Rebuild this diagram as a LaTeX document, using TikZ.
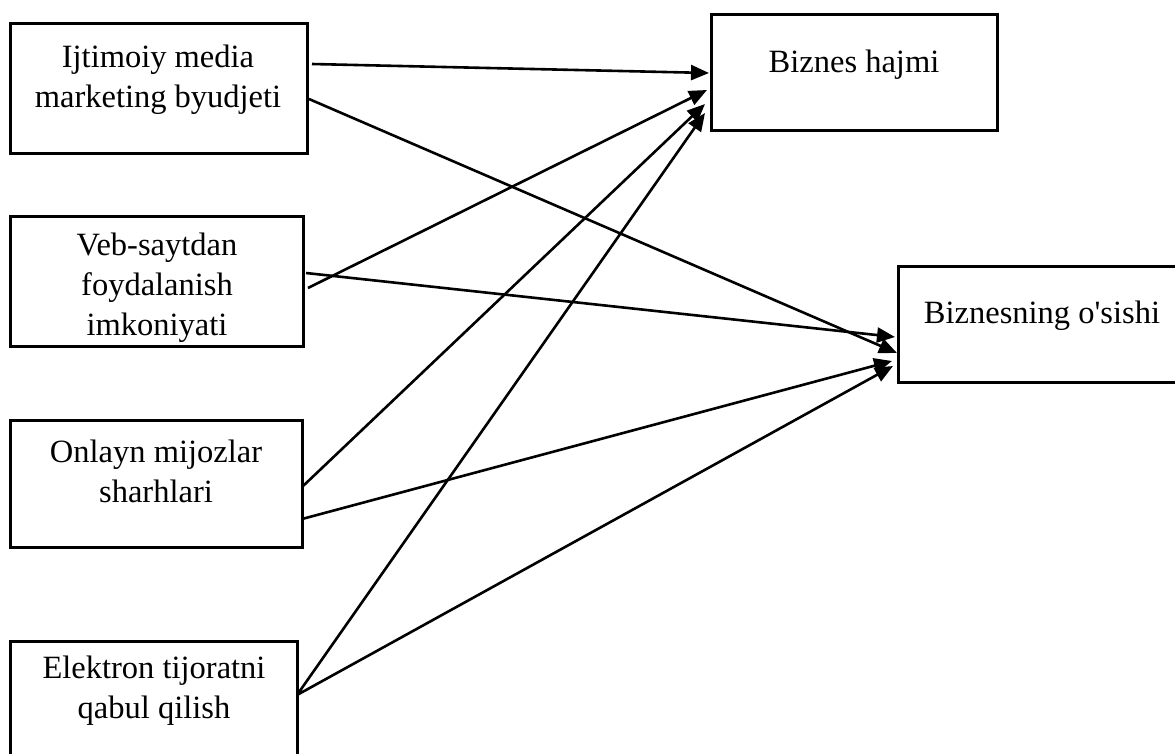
\documentclass[tikz,border=0pt]{standalone}
\usepackage{fontspec}
\setmainfont{Liberation Serif}[Ligatures=TeXOff]
\usetikzlibrary{arrows.meta}
\begin{document}
\begin{tikzpicture}[x=1pt,y=-1pt,
  box/.style={draw,line width=3pt,inner sep=0pt,rectangle},
  txt/.style={inner sep=0pt,align=center,font=\fontsize{32.5}{40}\selectfont},
  arr/.style={line width=2.6pt,-{Triangle[length=18pt,width=15pt]}}]
\useasboundingbox[fill=white] (0,0) rectangle (1175,753);
% boxes
\node[box,minimum width=296.5pt,minimum height=130pt] (b1) at (158.75,88) {};
\node[box,minimum width=292.5pt,minimum height=130pt] (b2) at (156.75,281) {};
\node[box,minimum width=291.5pt,minimum height=127pt] (b3) at (156.25,483.5) {};
\node[box,minimum width=286.5pt,minimum height=129pt] (b4) at (153.75,705.5) {};
\node[box,minimum width=286pt,minimum height=116pt] (bh) at (854,72) {};
\node[box,minimum width=292pt,minimum height=116pt] (bo) at (1044,324) {};
% texts
\node[txt,anchor=base] (t1) at (158,107) {Ijtimoiy media\\marketing byudjeti};
\begin{scope}
\clip (b2.south west) rectangle (b2.north east);
\node[txt,anchor=base] (t2) at (157,335) {Veb-saytdan\\foydalanish\\imkoniyati};
\end{scope}
\node[txt,anchor=base] (t3) at (156,502) {Onlayn mijozlar\\sharhlari};
\node[txt,anchor=base] (t4) at (154,718) {Elektron tijoratni\\qabul qilish};
\node[txt,anchor=base] (th) at (854,72) {Biznes hajmi};
\node[txt,anchor=base] (to) at (1042,323) {Biznesning o'sishi};
% connector ends
\coordinate (s1a) at (312,64);
\coordinate (s1b) at (309,99);
\coordinate (s2a) at (306,273);
\coordinate (s2b) at (308,288);
\coordinate (s3a) at (302,487);
\coordinate (s3b) at (302,519);
\coordinate (s4) at (297,695);
\coordinate (h1) at (709,73);
\coordinate (h2) at (707,90);
\coordinate (h3) at (705,104);
\coordinate (h4) at (705,113);
\coordinate (o1) at (895,337);
\coordinate (o2) at (897,353);
\coordinate (o3) at (892,361);
\coordinate (o4) at (893,366);
% connectors
\draw[arr] (s1a) -- (h1);
\draw[arr] (s1b) -- (o2);
\draw[arr] (s2a) -- (o1);
\draw[arr] (s2b) -- (h2);
\draw[arr] (s3a) -- (h3);
\draw[arr] (s3b) -- (o3);
\draw[arr] (s4) -- (h4);
\draw[arr] (s4) -- (o4);
\end{tikzpicture}
\end{document}
